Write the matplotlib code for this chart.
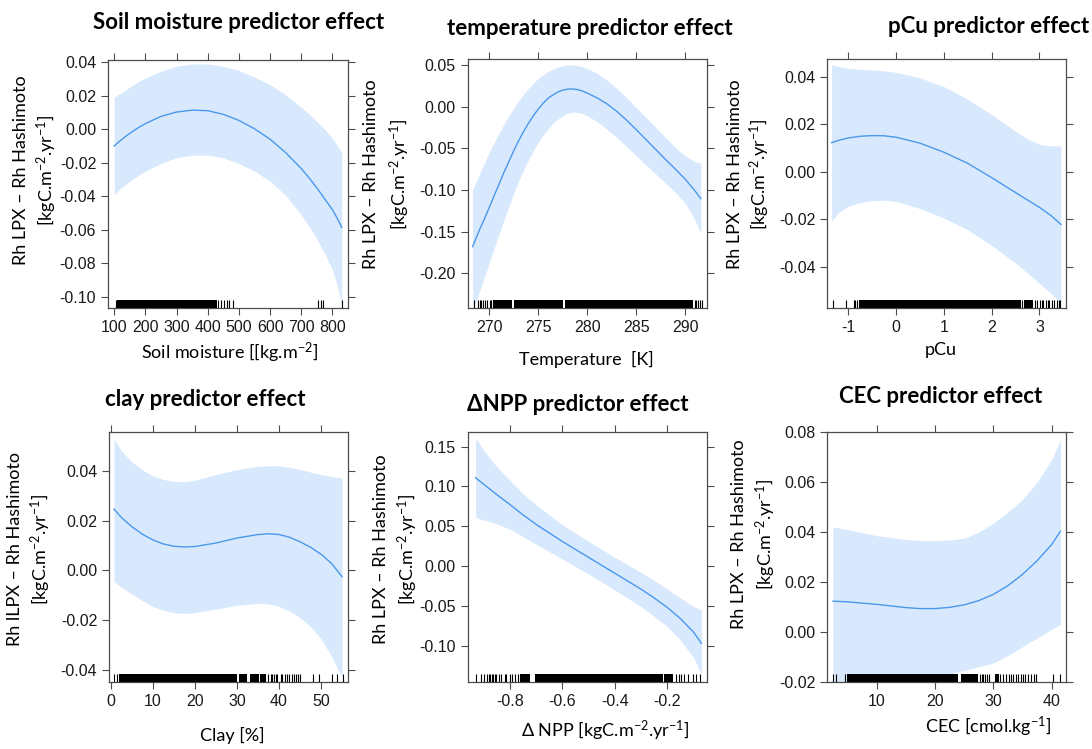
import matplotlib
matplotlib.use("Agg")
import matplotlib.pyplot as plt
import numpy as np

plt.rcParams["font.family"] = ["Liberation Sans", "DejaVu Sans"]
plt.rcParams["mathtext.fontset"] = "custom"
plt.rcParams["mathtext.rm"] = "Lato"
plt.rcParams["mathtext.it"] = "Lato:italic"
plt.rcParams["mathtext.bf"] = "Lato:bold"

LABEL_FONT = ["Lato", "DejaVu Sans"]
BAND = "#d8e9fd"
LINE = "#4a98ec"
FRAME = "#4d4d4d"

# --- soil moisture ---
soil_x = [100, 125, 150, 175, 200, 250, 300, 350, 400, 450, 500, 550, 600, 650, 700, 725, 750,
          775, 800, 815, 830]
soil_fit = [-0.0100, -0.0060, -0.0025, 0.0006, 0.0033, 0.0076, 0.0102, 0.0113, 0.0110, 0.0088,
            0.0052, 0.0002, -0.0060, -0.0140, -0.0235, -0.0290, -0.0350, -0.0415, -0.0480,
            -0.0530, -0.0585]
soil_up = [0.019, 0.022, 0.025, 0.028, 0.0305, 0.0345, 0.0375, 0.0388, 0.0388, 0.0375, 0.0350,
           0.0310, 0.0265, 0.0205, 0.0130, 0.0090, 0.0045, 0.0000, -0.0055, -0.0095, -0.0140]
soil_lo = [-0.039, -0.0345, -0.031, -0.0278, -0.025, -0.0205, -0.017, -0.0155, -0.0155, -0.017,
           -0.0205, -0.025, -0.031, -0.0395, -0.051, -0.058, -0.0655, -0.074, -0.084, -0.093,
           -0.104]
soil_rug_dense = [(107.7, 429)]
soil_rug_ticks = [104.5, 434, 443, 453, 461, 469, 481, 754, 762, 769, 831]

# --- temperature ---
temp_x = [268.3, 269, 269.5, 270, 270.5, 271, 271.5, 272, 272.5, 273, 273.5, 274, 274.5, 275,
          275.5, 276, 276.5, 277, 277.5, 278, 278.5, 279, 279.5, 280, 281, 282, 283, 284, 285,
          286, 287, 288, 289, 290, 291, 291.6]
temp_fit = [-0.168, -0.148, -0.135, -0.121, -0.107, -0.093, -0.079, -0.066, -0.053, -0.041,
            -0.030, -0.020, -0.011, -0.003, 0.004, 0.010, 0.014, 0.0175, 0.0198, 0.0210, 0.0212,
            0.0205, 0.0188, 0.0163, 0.0105, 0.0035, -0.0055, -0.0160, -0.0275, -0.0395, -0.0515,
            -0.0635, -0.0750, -0.0870, -0.1010, -0.1105]
temp_up = [-0.100, -0.081, -0.068, -0.055, -0.043, -0.032, -0.021, -0.011, -0.002, 0.007, 0.015,
           0.022, 0.028, 0.034, 0.038, 0.042, 0.045, 0.0475, 0.049, 0.050, 0.050, 0.0495, 0.048,
           0.046, 0.040, 0.032, 0.022, 0.011, -0.001, -0.013, -0.025, -0.037, -0.049, -0.059,
           -0.066, -0.068]
temp_lo = [-0.245, -0.222, -0.205, -0.188, -0.170, -0.153, -0.136, -0.120, -0.104, -0.089,
           -0.076, -0.064, -0.053, -0.043, -0.034, -0.027, -0.020, -0.015, -0.011, -0.008,
           -0.0065, -0.0068, -0.0085, -0.011, -0.018, -0.027, -0.037, -0.048, -0.059, -0.070,
           -0.081, -0.092, -0.103, -0.116, -0.136, -0.152]
temp_rug_dense = [(270.35, 272.35), (272.5, 277.55), (277.7, 290.8)]
temp_rug_ticks = [268.4, 268.9, 269.05, 269.2, 269.4, 269.6, 269.8, 270.07, 270.2,
                  291.0, 291.15, 291.36, 291.56, 291.7]

# --- pCu ---
pcu_x = [-1.35, -1.2, -1, -0.75, -0.5, -0.25, 0, 0.5, 1, 1.5, 2, 2.5, 2.75, 3, 3.25, 3.45]
pcu_fit = [0.0122, 0.0132, 0.0142, 0.0149, 0.0152, 0.0151, 0.0145, 0.0120, 0.0082, 0.0035,
           -0.0025, -0.0088, -0.0119, -0.0150, -0.0186, -0.0222]
pcu_up = [0.0450, 0.0442, 0.0435, 0.0431, 0.0428, 0.0424, 0.0418, 0.0395, 0.0358, 0.0305,
          0.0240, 0.0170, 0.0138, 0.0115, 0.0109, 0.0108]
pcu_lo = [-0.0208, -0.0172, -0.0145, -0.0130, -0.0122, -0.0120, -0.0125, -0.0155, -0.0195,
          -0.0245, -0.0310, -0.0385, -0.0427, -0.0470, -0.0513, -0.0555]
pcu_rug_dense = [(-0.77, 2.62), (2.67, 2.86)]
pcu_rug_ticks = [-1.33, -1.04, -0.88, -0.85, -0.81, 2.64, 2.90, 2.94, 3.01, 3.05, 3.08, 3.13,
                 3.17, 3.21, 3.27, 3.31, 3.36, 3.40, 3.43]

# --- clay ---
clay_x = [0.7, 2.5, 5, 7.5, 10, 12.5, 15, 17.5, 20, 25, 30, 35, 37.5, 40, 42.5, 45, 47.5, 50,
          52.5, 55]
clay_fit = [0.0246, 0.0212, 0.0175, 0.0145, 0.0122, 0.0106, 0.0097, 0.0094, 0.0096, 0.0110,
            0.0130, 0.0144, 0.0147, 0.0144, 0.0133, 0.0115, 0.0093, 0.0065, 0.0028, -0.0025]
clay_up = [0.053, 0.048, 0.0435, 0.0403, 0.038, 0.0365, 0.0358, 0.0356, 0.0362, 0.0385, 0.0405,
           0.0418, 0.042, 0.042, 0.0414, 0.0405, 0.0395, 0.0385, 0.0377, 0.037]
clay_lo = [-0.0045, -0.0068, -0.0095, -0.0122, -0.0145, -0.0160, -0.0170, -0.0173, -0.0170,
           -0.0155, -0.0140, -0.0132, -0.0134, -0.0145, -0.0163, -0.0190, -0.0226, -0.0275,
           -0.0345, -0.0430]
clay_rug_dense = [(1.9, 30.1), (30.45, 32.4), (33.0, 35.2), (35.5, 37.0)]
clay_rug_ticks = [0.8, 1.36, 37.4, 38.0, 38.4, 38.8, 39.2, 39.6, 40.4, 40.8, 41.4, 42.0, 42.4,
                  43.0, 43.5, 44.0, 44.4, 45.0, 48.2, 49.6, 52.6, 53.9, 55.2]

# --- delta NPP ---
npp_x = [-0.93, -0.9, -0.85, -0.8, -0.75, -0.7, -0.6, -0.5, -0.4, -0.3, -0.25, -0.2, -0.15,
         -0.1, -0.07]
npp_fit = [0.111, 0.103, 0.090, 0.0775, 0.0645, 0.0525, 0.031, 0.011, -0.009, -0.029, -0.040,
           -0.052, -0.066, -0.083, -0.097]
npp_up = [0.161, 0.146, 0.125, 0.108, 0.091, 0.077, 0.052, 0.031, 0.011, -0.008, -0.018, -0.029,
          -0.040, -0.051, -0.055]
npp_lo = [0.061, 0.058, 0.053, 0.0465, 0.037, 0.0275, 0.009, -0.010, -0.030, -0.051, -0.063,
          -0.076, -0.093, -0.115, -0.136]
npp_rug_dense = [(-0.762, -0.724), (-0.705, -0.217), (-0.211, -0.179)]
npp_rug_ticks = [-0.929, -0.908, -0.899, -0.886, -0.879, -0.874, -0.868, -0.863, -0.857, -0.851,
                 -0.842, -0.832, -0.819, -0.813, -0.800, -0.790, -0.781, -0.768,
                 -0.167, -0.156, -0.148, -0.135, -0.122, -0.103, -0.091, -0.075]

# --- CEC ---
cec_x = [2.5, 5, 10, 15, 17.5, 20, 22.5, 25, 27.5, 30, 32.5, 35, 37.5, 40, 41.5]
cec_fit = [0.0123, 0.0120, 0.0110, 0.0097, 0.0093, 0.0093, 0.0098, 0.0108, 0.0125, 0.0150,
           0.0185, 0.0230, 0.0285, 0.0350, 0.0403]
cec_up = [0.042, 0.041, 0.0385, 0.037, 0.0366, 0.0365, 0.0368, 0.0375, 0.040, 0.0435, 0.048,
          0.053, 0.060, 0.069, 0.077]
cec_lo = [-0.025, -0.024, -0.022, -0.020, -0.019, -0.018, -0.0168, -0.0155, -0.014, -0.0125,
          -0.0095, -0.0060, -0.0025, 0.001, 0.003]
cec_rug_dense = [(4.86, 24.0), (24.4, 27.4), (30.3, 30.9)]
cec_rug_ticks = [2.58, 2.97, 4.58, 27.7, 28.0, 28.3, 28.6, 28.9, 29.3, 31.2, 31.7, 32.2, 32.6,
                 33.0, 33.4, 33.8, 34.3, 34.7, 35.1, 35.5, 36.0, 36.4, 36.9, 37.3, 40.3, 41.4]

titles = ["Soil moisture predictor effect", "temperature predictor effect", "pCu predictor effect",
          "clay predictor effect", "ΔNPP predictor effect", "CEC predictor effect"]
xlabels = ["Soil moisture [[kg.m$^{-2}$]", "Temperature  [K]", "pCu", "Clay [%]",
           "Δ NPP [kgC.m$^{-2}$.yr$^{-1}$]", "CEC [cmol.kg$^{-1}$]"]
ylab1 = ["Rh LPX – Rh Hashimoto"] * 3 + ["Rh lLPX – Rh Hashimoto"] + ["Rh LPX – Rh Hashimoto"] * 2
ylab2 = "[kgC.m$^{-2}$.yr$^{-1}$]"

W, H = 1092, 749

# layout in pixels: axes box (left, right, top, bottom), limits, ticks, text anchors
panels = [
    dict(box=(108, 348, 60, 308), xlim=(80, 850), ylim=(-0.1066, 0.0412),
         xt=np.arange(100, 801, 100), yt=np.arange(-0.10, 0.041, 0.02), xfmt="{:.0f}",
         title=(239, 29), xlab=(230, 359), yl=(21.5, 46.5, 170),
         data=(soil_x, soil_fit, soil_lo, soil_up, soil_rug_dense, soil_rug_ticks)),
    dict(box=(467.7, 706.7, 59.3, 308), xlim=(267.8, 292.2), ylim=(-0.2417, 0.0568),
         xt=np.arange(270, 291, 5), yt=np.arange(-0.20, 0.051, 0.05), xfmt="{:.0f}",
         title=(589.5, 35), xlab=(586.5, 365), yl=(371, 399.5, 174.5),
         data=(temp_x, temp_fit, temp_lo, temp_up, temp_rug_dense, temp_rug_ticks)),
    dict(box=(827.3, 1065.7, 59.3, 308.3), xlim=(-1.44, 3.55), ylim=(-0.0575, 0.0473),
         xt=np.arange(-1, 4, 1), yt=np.arange(-0.04, 0.041, 0.02), xfmt="{:.0f}",
         title=(988.5, 33), xlab=(941, 355), yl=(735, 760, 174),
         data=(pcu_x, pcu_fit, pcu_lo, pcu_up, pcu_rug_dense, pcu_rug_ticks)),
    dict(box=(109, 347.7, 431.7, 681.7), xlim=(-0.48, 56.35), ylim=(-0.0447, 0.0557),
         xt=np.arange(0, 51, 10), yt=np.arange(-0.04, 0.041, 0.02), xfmt="{:.0f}",
         title=(205.5, 406), xlab=(232, 741), yl=(15.5, 41, 549),
         data=(clay_x, clay_fit, clay_lo, clay_up, clay_rug_dense, clay_rug_ticks)),
    dict(box=(467.7, 706.7, 431.7, 682.3), xlim=(-0.96, -0.05), ylim=(-0.146, 0.1688),
         xt=np.arange(-0.8, -0.19, 0.2), yt=np.arange(-0.10, 0.151, 0.05), xfmt="{:.1f}",
         title=(578, 411), xlab=(605, 736.7), yl=(380.5, 407.5, 549.5),
         data=(npp_x, npp_fit, npp_lo, npp_up, npp_rug_dense, npp_rug_ticks)),
    dict(box=(827.3, 1065.7, 431.7, 681.7), xlim=(1.53, 42.4), ylim=(-0.0200, 0.0802),
         xt=np.arange(10, 41, 10), yt=np.arange(-0.02, 0.081, 0.02), xfmt="{:.0f}",
         title=(940.5, 403), xlab=(988, 732.7), yl=(739.5, 765.5, 534.5),
         data=(cec_x, cec_fit, cec_lo, cec_up, cec_rug_dense, cec_rug_ticks)),
]

fig = plt.figure(figsize=(W / 100, H / 100), dpi=100)

for i, p in enumerate(panels):
    l, r, t, b = p["box"]
    ax = fig.add_axes([l / W, 1 - b / H, (r - l) / W, (b - t) / H])
    x, fit, lo, up, dense, ticks = p["data"]

    ax.fill_between(x, lo, up, color=BAND, lw=0, zorder=1)
    ax.plot(x, fit, color=LINE, lw=1.0, zorder=2)

    rug_h = 8 / (b - t)
    for x0, x1 in dense:
        ax.axvspan(x0, x1, ymin=0, ymax=rug_h, color="black", lw=0, zorder=3)
    ax.vlines(ticks, 0, rug_h, color="black", lw=0.8, transform=ax.get_xaxis_transform(),
              zorder=3)

    ax.set_xlim(*p["xlim"])
    ax.set_ylim(*p["ylim"])
    ax.set_xticks(p["xt"])
    ax.set_xticklabels([p["xfmt"].format(round(v, 4) + 0.0) for v in p["xt"]])
    ax.set_yticks(p["yt"])
    ax.set_yticklabels(["{:.2f}".format(round(v, 4) + 0.0) for v in p["yt"]])
    ax.tick_params(direction="out", length=5, width=0.8, color=FRAME, labelsize=11.5,
                   labelcolor="#1a1a1a", top=True, right=True, pad=3.5)
    for s in ax.spines.values():
        s.set_color(FRAME)
        s.set_linewidth(0.9)

    tx, ty = p["title"]
    fig.text(tx / W, 1 - ty / H, titles[i], ha="center", va="baseline", fontsize=16,
             fontweight="bold", family=LABEL_FONT)
    lx, ly = p["xlab"]
    fig.text(lx / W, 1 - ly / H, xlabels[i], ha="center", va="baseline", fontsize=13,
             family=LABEL_FONT)
    y1x, y2x, yc = p["yl"]
    fig.text(y1x / W, 1 - yc / H, ylab1[i], ha="center", va="center", rotation=90,
             fontsize=13, family=LABEL_FONT)
    fig.text(y2x / W, 1 - yc / H, ylab2, ha="center", va="center", rotation=90,
             fontsize=13, family=LABEL_FONT)

fig.savefig("out.png", dpi=100)
